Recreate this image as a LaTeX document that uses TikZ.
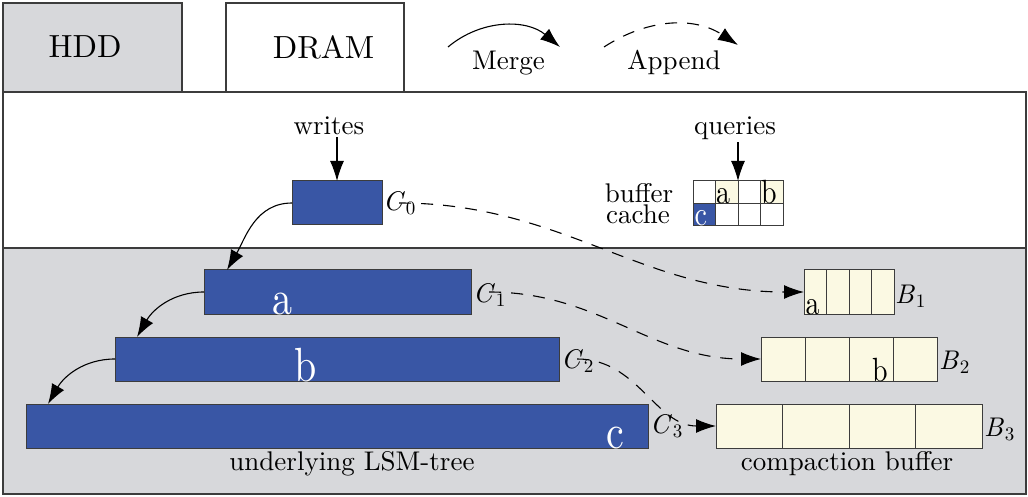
\RequirePackage{fix-cm}
\documentclass[tikz,border=0pt]{standalone}
\usepackage{graphicx}
\usepackage{fontspec}
% one design size of Latin Modern at every size
\setmainfont{lmroman10-regular}[Extension=.otf, ItalicFont=lmroman10-italic, BoldFont=lmroman10-bold]
\usetikzlibrary{arrows.meta,calc}

\definecolor{lsmblue}{RGB}{57,86,165}
\definecolor{diskgray}{RGB}{215,216,219}
\definecolor{bufyellow}{RGB}{251,249,227}
\definecolor{edgegray}{RGB}{60,60,60}

% letters drawn a little taller than the font gives
\newcommand\tallglyph[1]{\scalebox{1}[1.2]{#1}}
% an italic name with a lowered index, e.g. C_0
\newcommand\idxname[2]{\textit{#1}\kern1pt\raisebox{-4pt}{\fontsize{19}{19}\selectfont #2}}

\begin{document}
\begin{tikzpicture}[x=1pt,y=1pt,
  every node/.style={inner sep=0pt, outer sep=0pt},
  txt/.style={font=\fontsize{27}{22}\selectfont},
  headtxt/.style={font=\fontsize{32}{38}\selectfont},
  region/.style={draw=edgegray, line width=1.4pt},
  comp/.style={draw=edgegray, fill=lsmblue, line width=1pt, minimum height=44pt},
  bufbox/.style={draw=edgegray, fill=bufyellow, line width=1pt, minimum height=44pt},
  divider/.style={draw=edgegray, line width=1pt},
  gcell/.style={draw=edgegray, fill=white, line width=1pt, minimum width=22.5pt, minimum height=22.5pt},
  bigglyph/.style={font=\fontsize{40}{48}\selectfont, text=white, anchor=base west},
  cellglyph/.style={font=\fontsize{28}{34}\selectfont, anchor=base west},
  mergearrow/.style={draw=black, line width=1.1pt, -{Latex[length=20pt,width=14pt]}},
  appendarrow/.style={draw=black, line width=1.1pt, dash pattern=on 12pt off 10pt, -{Latex[length=20pt,width=14pt]}},
]
\useasboundingbox (0,0) rectangle (1028,496);

% ---- legend ----
\node[region, fill=diskgray, minimum width=179pt, minimum height=89pt] (hddkey) at (92.5,448.5) {};
\node[headtxt] (hddtxt) at (85,449) {HDD};
\node[region, fill=white, minimum width=178pt, minimum height=89pt] (dramkey) at (315,448.5) {};
\node[headtxt] (dramtxt) at (323.5,449) {DRAM};

\coordinate (mg1) at (448,449);
\coordinate (mg2) at (560,449);
\draw[mergearrow] (mg1) to[out=40,in=140] (mg2);
\node[txt, anchor=base] (mergetxt) at (508.5,426) {Merge};

\coordinate (ap1) at (604,449);
\coordinate (ap2) at (738,451);
\draw[appendarrow] (ap1) to[out=33,in=147] (ap2);
\node[txt, anchor=base] (appendtxt) at (674,426) {Append};

% ---- memory and disk zones ----
\node[region, fill=white, minimum width=1023pt, minimum height=156pt] (memzone) at (514.5,326) {};
\node[region, fill=diskgray, minimum width=1023pt, minimum height=246pt] (diskzone) at (514.5,125) {};

% ---- LSM-tree components ----
\node[comp, minimum width=90pt]  (c0) at (337,293) {};
\node[comp, minimum width=267pt] (c1) at (337.5,204) {};
\node[comp, minimum width=444pt] (c2) at (337,137) {};
\node[comp, minimum width=622pt] (c3) at (337,70) {};

\node[txt, anchor=base west] (c0l) at ($(c0.east)+(1,-8)$) {\idxname{C}{0}};
\node[txt, anchor=base west] (c1l) at ($(c1.east)+(2,-10)$) {\idxname{C}{1}};
\node[txt, anchor=base west] (c2l) at ($(c2.east)+(2,-9)$) {\idxname{C}{2}};
\node[txt, anchor=base west] (c3l) at ($(c3.east)+(2,-7)$) {\idxname{C}{3}};

\node[bigglyph] (ka) at ($(c1.south west)+(68,0)$) {\tallglyph{a}};
\node[bigglyph] (kb) at ($(c2.south west)+(179,0)$) {\tallglyph{b}};
\node[bigglyph] (kc) at ($(c3.south west)+(580,0)$) {\tallglyph{c}};

\node[txt, anchor=base] (lsmtxt) at (352,26) {underlying LSM-tree};

% ---- writes ----
\node[txt, anchor=base] (writes) at (329,361) {writes};
\draw[mergearrow] (writes.south -| c0.north) ++(0,-2) coordinate (wtop) (wtop) -- (c0.north);

% ---- buffer cache ----
\node[gcell] (g11) at (704.25,303.75) {};
\node[gcell, fill=bufyellow] (g12) at (726.75,303.75) {};
\node[gcell] (g13) at (749.25,303.75) {};
\node[gcell, fill=bufyellow] (g14) at (771.75,303.75) {};
\node[gcell, fill=lsmblue] (g21) at (704.25,281.25) {};
\node[gcell] (g22) at (726.75,281.25) {};
\node[gcell] (g23) at (749.25,281.25) {};
\node[gcell] (g24) at (771.75,281.25) {};

\node[cellglyph] (qa) at ($(g12.south west)+(0.5,0)$) {\tallglyph{a}};
\node[cellglyph] (qb) at ($(g14.south west)+(0.5,0)$) {\tallglyph{b}};
\node[cellglyph, text=white] (qc) at ($(g21.south west)+(1.5,0)$) {\tallglyph{c}};

\node[txt, anchor=base] (buftxt) at (639,293) {buffer};
\node[txt, anchor=base] (cachetxt) at (638,272) {cache};

\node[txt, anchor=base] (queries) at (735,361) {queries};
\draw[mergearrow] (queries.south -| g12.north east) ++(0,-2) coordinate (qtop) (qtop) -- (g12.north east);

% ---- compaction buffers ----
\node[bufbox, minimum width=90pt]  (b1) at (849,204) {};
\node[bufbox, minimum width=176pt] (b2) at (849,137) {};
\node[bufbox, minimum width=266pt] (b3) at (849,70) {};
\foreach \b in {b1,b2,b3}{
  \foreach \f in {0.25,0.5,0.75}{
    \draw[divider] ($(\b.south west)!\f!(\b.south east)$) -- ($(\b.north west)!\f!(\b.north east)$);
  }
}
\node[txt, anchor=base west] (b1l) at ($(b1.east)+(1,-11)$) {\idxname{B}{1}};
\node[txt, anchor=base west] (b2l) at ($(b2.east)+(2,-10)$) {\idxname{B}{2}};
\node[txt, anchor=base west] (b3l) at ($(b3.east)+(2,-10)$) {\idxname{B}{3}};

\node[cellglyph] (ba) at ($(b1.south west)+(1.5,0)$) {\tallglyph{a}};
\node[cellglyph] (bb) at ($(b2.south west)+(111,0)$) {\tallglyph{b}};

\node[txt, anchor=base] (cbtxt) at (847,26) {compaction buffer};

% ---- merges down the tree ----
\draw[mergearrow] (c0.west) to[out=180,in=60] ($(c1.north west)+(23,0)$);
\draw[mergearrow] (c1.west) to[out=180,in=60] ($(c2.north west)+(22,0)$);
\draw[mergearrow] (c2.west) to[out=180,in=60] ($(c3.north west)+(22,0)$);

% ---- appends into the compaction buffers ----
\draw[appendarrow] (c0l.center |- c0.east) to[out=0,in=180] (b1.west);
\draw[appendarrow] (c1l.center |- c1.east) to[out=0,in=180] (b2.west);
\draw[appendarrow] (c2l.center |- c2.east) to[out=0,in=180] (b3.west);
\end{tikzpicture}
\end{document}
